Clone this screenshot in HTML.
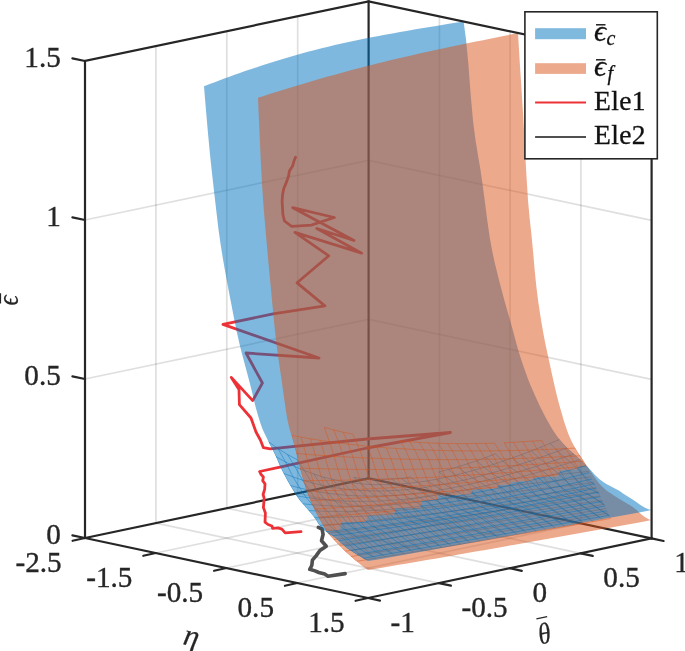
<!DOCTYPE html>
<html><head><meta charset="utf-8"><title>plot</title>
<style>html,body{margin:0;padding:0;background:#fff}svg{display:block}</style></head>
<body>
<svg width="685" height="651" viewBox="0 0 685 651">
<defs>
<clipPath id="cR"><polygon points="300.0,535.5 325.8,531.5 340.0,530.0 341.5,522.0 366.0,521.5 367.5,516.0 394.0,515.0 395.5,508.5 420.0,508.0 421.5,501.0 437.0,499.5 438.5,495.5 471.0,494.5 472.5,489.5 497.0,488.5 498.5,485.0 510.0,484.5 511.5,482.0 532.0,481.0 533.5,477.5 558.0,476.5 559.5,470.5 577.0,469.5 578.5,466.5 590.0,465.5 700.0,465.5 700.0,700.0 300.0,700.0"/></clipPath>
<clipPath id="cN"><path clip-rule="evenodd" d="M-10,-10H700V700H-10Z M300.0,535.5 L325.8,531.5 L340.0,530.0 L341.5,522.0 L366.0,521.5 L367.5,516.0 L394.0,515.0 L395.5,508.5 L420.0,508.0 L421.5,501.0 L437.0,499.5 L438.5,495.5 L471.0,494.5 L472.5,489.5 L497.0,488.5 L498.5,485.0 L510.0,484.5 L511.5,482.0 L532.0,481.0 L533.5,477.5 L558.0,476.5 L559.5,470.5 L577.0,469.5 L578.5,466.5 L590.0,465.5 L700.0,465.5 L700.0,700.0 L300.0,700.0 Z"/></clipPath>
<clipPath id="cB"><polygon points="204.0,86.2 209.1,84.3 214.1,82.4 219.2,80.5 224.3,78.6 229.4,76.7 234.6,74.8 239.8,72.9 245.1,71.0 250.6,69.2 256.2,67.4 261.8,65.6 267.4,63.8 273.0,62.0 278.7,60.2 284.5,58.4 290.4,56.7 296.4,54.9 302.5,53.2 308.8,51.6 315.1,49.9 321.6,48.3 328.2,46.7 334.9,45.1 341.7,43.6 348.6,42.1 355.7,40.6 362.8,39.1 370.1,37.6 377.5,36.2 384.9,34.8 392.5,33.4 400.1,32.0 407.8,30.7 415.6,29.3 423.4,28.0 431.4,26.7 439.3,25.4 447.4,24.1 455.5,22.8 463.6,21.5 466.0,39.3 468.4,64.5 470.7,95.1 473.1,121.6 475.5,139.9 477.9,154.7 480.3,168.7 482.6,184.4 485.0,202.7 487.4,221.2 489.8,237.8 492.2,250.9 494.5,261.8 496.9,271.6 499.3,281.2 501.7,290.3 504.0,299.0 506.4,307.4 508.8,315.8 511.2,324.3 513.6,333.1 515.9,341.8 518.3,350.2 520.7,358.0 523.1,365.2 525.5,372.0 527.8,378.4 530.2,384.4 532.6,390.1 535.0,395.6 537.4,400.8 539.7,405.8 542.1,410.6 544.5,415.3 546.9,419.7 549.3,424.0 551.6,428.0 554.0,431.7 556.4,435.2 558.8,438.5 561.2,441.4 563.5,444.1 565.9,446.6 568.3,448.9 570.7,451.1 573.1,453.2 575.4,455.3 577.8,457.4 580.2,459.5 582.6,461.7 585.0,464.0 587.3,466.4 589.7,469.0 592.1,471.8 594.5,474.5 596.9,476.8 599.2,478.9 601.6,480.8 604.0,482.4 606.4,483.9 608.8,485.2 611.1,486.5 613.5,487.7 615.9,489.0 618.3,490.3 620.7,491.8 623.0,493.4 625.4,495.0 627.8,496.6 630.2,498.1 632.6,499.6 634.9,501.1 637.3,502.8 639.7,504.4 642.1,506.0 644.5,507.4 646.8,508.6 649.2,509.5 651.6,510.1 641.8,511.9 632.0,513.7 622.3,515.5 612.5,517.3 602.7,519.1 592.9,520.9 583.1,522.6 573.4,524.4 563.6,526.2 553.8,528.0 544.0,529.7 534.2,531.5 524.5,533.3 514.7,535.0 504.9,536.8 495.1,538.5 485.4,540.3 475.6,542.0 465.8,543.8 456.0,545.5 446.2,547.3 436.5,549.0 426.7,550.7 416.9,552.5 407.1,554.2 397.3,555.9 387.6,557.7 377.8,559.4 368.0,561.1 365.9,559.9 363.8,558.7 361.8,557.5 359.7,556.2 357.6,555.0 355.5,553.7 353.5,552.4 351.4,551.1 349.3,549.7 347.2,548.2 345.2,546.6 343.1,544.7 341.0,542.9 338.9,540.9 336.9,539.1 334.8,537.4 332.7,536.0 330.6,534.7 328.6,533.5 326.5,532.1 324.4,530.5 322.3,528.6 320.3,526.3 318.2,523.4 316.1,520.1 314.0,517.1 312.0,514.5 309.9,512.0 307.8,509.6 305.7,507.2 303.7,504.8 301.6,502.4 299.5,499.9 297.4,497.0 295.4,493.9 293.3,490.5 291.2,486.9 289.1,483.4 287.0,479.8 285.0,476.1 282.9,472.1 280.8,467.7 278.7,462.9 276.7,458.2 274.6,453.7 272.5,449.6 270.4,445.5 268.4,441.4 266.3,437.0 264.2,432.7 262.1,427.9 260.1,422.3 258.0,415.6 255.9,408.0 253.8,399.7 251.8,391.1 249.7,382.7 247.6,374.7 245.5,367.1 243.5,359.4 241.4,351.5 239.3,343.0 237.2,333.8 235.2,323.9 233.1,313.4 231.0,302.6 228.9,291.8 226.9,280.8 224.8,269.5 222.7,257.4 220.6,244.3 218.5,229.4 216.5,212.6 214.4,194.4 212.3,175.7 210.2,156.4 208.2,135.4 206.1,111.7"/></clipPath>
<clipPath id="cO"><polygon points="258.0,97.7 263.8,95.9 269.5,94.1 275.2,92.3 281.0,90.6 286.7,88.8 292.5,87.0 298.3,85.3 304.2,83.5 310.0,81.8 315.8,80.0 321.8,78.3 327.8,76.6 334.0,74.9 340.2,73.2 346.4,71.5 352.6,69.8 358.9,68.2 365.2,66.5 371.6,64.9 378.1,63.3 384.6,61.7 391.2,60.1 397.9,58.5 404.6,56.9 411.4,55.4 418.3,53.8 425.2,52.3 432.1,50.8 439.1,49.3 446.1,47.8 453.2,46.3 460.3,44.8 467.5,43.3 474.6,41.8 481.8,40.4 489.0,38.9 496.2,37.4 503.5,36.0 510.7,34.5 518.0,33.1 519.7,61.5 521.4,87.7 523.1,114.3 524.7,143.8 526.4,175.1 528.1,201.7 529.8,219.8 531.5,235.2 533.2,252.9 534.9,272.8 536.6,288.7 538.3,301.9 540.0,313.5 541.7,324.0 543.4,333.4 545.0,341.9 546.7,349.9 548.4,357.7 550.1,365.5 551.8,373.4 553.5,381.2 555.2,388.6 556.9,395.7 558.6,402.2 560.3,408.4 562.0,414.3 563.6,420.0 565.3,425.3 567.0,430.2 568.7,434.7 570.4,438.7 572.1,442.3 573.8,445.6 575.5,448.6 577.2,451.4 578.9,454.1 580.6,456.6 582.3,459.1 583.9,461.6 585.6,464.0 587.3,466.5 589.0,469.0 590.7,471.6 592.4,474.1 594.1,476.6 595.8,479.0 597.5,481.3 599.2,483.4 600.9,485.3 602.6,487.0 604.2,488.6 605.9,490.0 607.6,491.3 609.3,492.5 611.0,493.6 612.7,494.8 614.4,495.8 616.1,496.9 617.8,498.0 619.5,499.1 621.2,500.1 622.8,501.1 624.5,502.1 626.2,503.1 627.9,504.1 629.6,505.1 631.3,506.1 633.0,507.2 634.7,508.4 636.4,509.8 638.1,511.4 639.8,512.9 641.5,514.4 643.1,515.8 644.8,517.1 646.5,518.1 648.2,519.0 649.9,519.7 651.6,520.1 641.8,521.9 632.0,523.7 622.3,525.5 612.5,527.2 602.7,529.0 592.9,530.8 583.1,532.5 573.4,534.3 563.6,536.0 553.8,537.8 544.0,539.5 534.2,541.3 524.5,543.0 514.7,544.7 504.9,546.4 495.1,548.2 485.4,549.9 475.6,551.6 465.8,553.3 456.0,555.0 446.2,556.7 436.5,558.4 426.7,560.0 416.9,561.7 407.1,563.4 397.3,565.0 387.6,566.7 377.8,568.4 368.0,570.0 366.6,569.0 365.2,568.0 363.8,567.0 362.4,566.0 361.0,564.9 359.6,563.8 358.3,562.7 356.9,561.6 355.5,560.4 354.1,559.3 352.7,558.0 351.3,556.8 349.9,555.6 348.5,554.3 347.1,553.0 345.7,551.7 344.3,550.4 342.9,549.0 341.6,547.6 340.2,546.2 338.8,544.8 337.4,543.4 336.0,541.9 334.6,540.4 333.2,539.0 331.8,537.6 330.4,536.1 329.0,534.5 327.6,532.6 326.2,530.5 324.8,528.2 323.5,525.9 322.1,523.5 320.7,521.0 319.3,518.4 317.9,515.8 316.5,513.2 315.1,510.5 313.7,507.7 312.3,504.8 310.9,501.6 309.5,498.3 308.1,494.8 306.8,491.1 305.4,487.0 304.0,482.5 302.6,477.6 301.2,472.5 299.8,467.2 298.4,461.5 297.0,455.8 295.6,450.2 294.2,444.6 292.8,439.4 291.4,434.9 290.0,430.6 288.7,425.6 287.3,418.9 285.9,410.5 284.5,400.9 283.1,390.7 281.7,380.6 280.3,371.2 278.9,361.8 277.5,352.0 276.1,341.1 274.7,328.2 273.3,313.7 271.9,299.4 270.6,285.2 269.2,270.7 267.8,255.6 266.4,239.8 265.0,223.8 263.6,206.9 262.2,186.9 260.8,161.0 259.4,130.4"/></clipPath>
<clipPath id="cM"><polygon points="0,0 572,0 572,430 586,466 611,519 622,545 622,700 0,700"/></clipPath>
</defs>
<rect width="685" height="651" fill="#fff"/>
<g stroke="#262626" stroke-opacity="0.15" stroke-width="1.7" fill="none">
<line x1="155.9" y1="523.1" x2="155.9" y2="46.1"/>
<line x1="439.4" y1="493.4" x2="439.4" y2="16.4"/>
<line x1="155.8" y1="553.0" x2="439.4" y2="493.4"/>
<line x1="155.9" y1="523.1" x2="438.9" y2="583.1"/>
<line x1="226.8" y1="508.2" x2="226.8" y2="31.2"/>
<line x1="510.1" y1="508.4" x2="510.1" y2="31.4"/>
<line x1="226.5" y1="568.0" x2="510.1" y2="508.4"/>
<line x1="226.8" y1="508.2" x2="509.8" y2="568.2"/>
<line x1="297.7" y1="493.3" x2="297.7" y2="16.3"/>
<line x1="580.9" y1="523.4" x2="580.9" y2="46.4"/>
<line x1="297.2" y1="583.0" x2="580.9" y2="523.4"/>
<line x1="297.7" y1="493.3" x2="580.7" y2="553.3"/>
<line x1="85.0" y1="379.0" x2="368.6" y2="319.4"/>
<line x1="368.6" y1="319.4" x2="651.6" y2="379.4"/>
<line x1="85.0" y1="220.0" x2="368.6" y2="160.4"/>
<line x1="368.6" y1="160.4" x2="651.6" y2="220.4"/>
</g>
<g stroke="#262626" stroke-width="2.2" fill="none" stroke-linecap="square">
<line x1="85.0" y1="538.0" x2="368.6" y2="478.4"/>
<line x1="368.6" y1="478.4" x2="651.6" y2="538.4"/>
<line x1="368.6" y1="478.4" x2="368.6" y2="1.4"/>
</g>
<polyline points="295.5,157.3 294.0,161.0 292.6,166.1 289.4,171.0 288.6,176.0 287.0,180.6 283.7,188.7 282.5,195.0 282.1,201.6 282.9,214.5 284.5,221.0 291.6,226.3 311.3,225.2 334.3,217.5 292.7,207.7 354.0,240.5 316.8,228.5 361.7,253.2 294.9,232.4 328.8,255.8 297.1,282.8 324.9,305.8 273.0,313.9 223.0,324.4 319.0,358.0 246.0,353.0 262.4,383.0 252.7,400.6 231.3,377.4 239.0,389.5 239.4,404.7 251.0,418.0 256.0,432.0 260.4,440.0 263.4,447.7 270.3,448.9 367.0,439.0 450.5,432.5 367.0,448.0 278.8,467.3 259.6,471.5 261.1,474.6 263.4,476.9 262.7,480.7 265.0,483.8 264.7,489.2 263.1,494.5 264.2,498.4 263.4,507.6 265.4,513.0 265.0,522.2 268.0,524.5 271.9,526.0 272.6,528.3 278.0,527.9 281.9,529.1 285.2,532.9 301.0,531.6" fill="none" stroke="#ed3237" stroke-width="2.8" stroke-linejoin="round" stroke-linecap="round"/>
<polyline points="318.3,527.4 322.0,529.0 323.1,534.4 321.5,540.8 326.3,546.2 319.9,550.5 316.1,555.9 312.4,560.2 311.8,565.5 309.7,569.3 315.0,570.9 318.8,572.5 324.7,574.1 328.0,576.3 345.2,573.6" fill="none" stroke="#505050" stroke-width="3.6" stroke-linejoin="round" stroke-linecap="round"/>
<g clip-path="url(#cR)"><polygon points="258.0,97.7 263.8,95.9 269.5,94.1 275.2,92.3 281.0,90.6 286.7,88.8 292.5,87.0 298.3,85.3 304.2,83.5 310.0,81.8 315.8,80.0 321.8,78.3 327.8,76.6 334.0,74.9 340.2,73.2 346.4,71.5 352.6,69.8 358.9,68.2 365.2,66.5 371.6,64.9 378.1,63.3 384.6,61.7 391.2,60.1 397.9,58.5 404.6,56.9 411.4,55.4 418.3,53.8 425.2,52.3 432.1,50.8 439.1,49.3 446.1,47.8 453.2,46.3 460.3,44.8 467.5,43.3 474.6,41.8 481.8,40.4 489.0,38.9 496.2,37.4 503.5,36.0 510.7,34.5 518.0,33.1 519.7,61.5 521.4,87.7 523.1,114.3 524.7,143.8 526.4,175.1 528.1,201.7 529.8,219.8 531.5,235.2 533.2,252.9 534.9,272.8 536.6,288.7 538.3,301.9 540.0,313.5 541.7,324.0 543.4,333.4 545.0,341.9 546.7,349.9 548.4,357.7 550.1,365.5 551.8,373.4 553.5,381.2 555.2,388.6 556.9,395.7 558.6,402.2 560.3,408.4 562.0,414.3 563.6,420.0 565.3,425.3 567.0,430.2 568.7,434.7 570.4,438.7 572.1,442.3 573.8,445.6 575.5,448.6 577.2,451.4 578.9,454.1 580.6,456.6 582.3,459.1 583.9,461.6 585.6,464.0 587.3,466.5 589.0,469.0 590.7,471.6 592.4,474.1 594.1,476.6 595.8,479.0 597.5,481.3 599.2,483.4 600.9,485.3 602.6,487.0 604.2,488.6 605.9,490.0 607.6,491.3 609.3,492.5 611.0,493.6 612.7,494.8 614.4,495.8 616.1,496.9 617.8,498.0 619.5,499.1 621.2,500.1 622.8,501.1 624.5,502.1 626.2,503.1 627.9,504.1 629.6,505.1 631.3,506.1 633.0,507.2 634.7,508.4 636.4,509.8 638.1,511.4 639.8,512.9 641.5,514.4 643.1,515.8 644.8,517.1 646.5,518.1 648.2,519.0 649.9,519.7 651.6,520.1 641.8,521.9 632.0,523.7 622.3,525.5 612.5,527.2 602.7,529.0 592.9,530.8 583.1,532.5 573.4,534.3 563.6,536.0 553.8,537.8 544.0,539.5 534.2,541.3 524.5,543.0 514.7,544.7 504.9,546.4 495.1,548.2 485.4,549.9 475.6,551.6 465.8,553.3 456.0,555.0 446.2,556.7 436.5,558.4 426.7,560.0 416.9,561.7 407.1,563.4 397.3,565.0 387.6,566.7 377.8,568.4 368.0,570.0 366.6,569.0 365.2,568.0 363.8,567.0 362.4,566.0 361.0,564.9 359.6,563.8 358.3,562.7 356.9,561.6 355.5,560.4 354.1,559.3 352.7,558.0 351.3,556.8 349.9,555.6 348.5,554.3 347.1,553.0 345.7,551.7 344.3,550.4 342.9,549.0 341.6,547.6 340.2,546.2 338.8,544.8 337.4,543.4 336.0,541.9 334.6,540.4 333.2,539.0 331.8,537.6 330.4,536.1 329.0,534.5 327.6,532.6 326.2,530.5 324.8,528.2 323.5,525.9 322.1,523.5 320.7,521.0 319.3,518.4 317.9,515.8 316.5,513.2 315.1,510.5 313.7,507.7 312.3,504.8 310.9,501.6 309.5,498.3 308.1,494.8 306.8,491.1 305.4,487.0 304.0,482.5 302.6,477.6 301.2,472.5 299.8,467.2 298.4,461.5 297.0,455.8 295.6,450.2 294.2,444.6 292.8,439.4 291.4,434.9 290.0,430.6 288.7,425.6 287.3,418.9 285.9,410.5 284.5,400.9 283.1,390.7 281.7,380.6 280.3,371.2 278.9,361.8 277.5,352.0 276.1,341.1 274.7,328.2 273.3,313.7 271.9,299.4 270.6,285.2 269.2,270.7 267.8,255.6 266.4,239.8 265.0,223.8 263.6,206.9 262.2,186.9 260.8,161.0 259.4,130.4" fill="#d95319" fill-opacity="0.5"/><g clip-path="url(#cO)"><path clip-path="url(#cM)" d="M291.6,435.4 L301.0,437.1 L310.5,438.8 L320.0,440.3 L329.4,441.7 L338.9,443.0 L348.3,444.1 L357.8,445.2 L367.2,446.1 L376.7,447.0 L386.1,447.8 L395.6,448.4 L405.0,449.0 L414.5,449.5 L423.9,449.9 L433.4,450.3 L442.8,450.5 L452.3,450.7 L461.8,450.9 L471.2,450.9 L480.7,450.9 L490.1,450.9 L499.6,450.8 L509.0,450.6 L518.5,450.4 L527.9,450.1 L537.4,449.8 L546.8,449.5 L556.3,449.0 L565.7,448.6 L575.2,448.1 M296.4,453.4 L305.9,454.2 L315.3,455.0 L324.8,455.6 L334.2,456.3 L343.7,456.8 L353.1,457.3 L362.6,457.8 L372.0,458.2 L381.5,458.5 L390.9,458.8 L400.4,459.1 L409.8,459.3 L419.3,459.4 L428.8,459.6 L438.2,459.6 L447.7,459.6 L457.1,459.6 L466.6,459.6 L476.0,459.4 L485.5,459.3 L494.9,459.1 L504.4,458.9 L513.8,458.6 L523.3,458.3 L532.7,458.0 L542.2,457.6 L551.6,457.2 L561.1,456.8 L570.6,456.3 L580.0,455.8 M300.0,468.1 L309.5,468.4 L318.9,468.7 L328.4,468.9 L337.8,469.1 L347.3,469.3 L356.7,469.4 L366.2,469.4 L375.6,469.5 L385.1,469.5 L394.6,469.4 L404.0,469.3 L413.5,469.2 L422.9,469.0 L432.4,468.8 L441.8,468.5 L451.3,468.3 L460.7,468.0 L470.2,467.6 L479.6,467.2 L489.1,466.8 L498.5,466.4 L508.0,465.9 L517.4,465.4 L526.9,464.9 L536.4,464.3 L545.8,463.7 L555.3,463.1 L564.7,462.5 L574.2,461.8 L583.6,461.1 M303.4,480.6 L312.9,480.6 L322.3,480.5 L331.8,480.4 L341.2,480.2 L350.7,480.1 L360.1,479.9 L369.6,479.6 L379.1,479.3 L388.5,479.0 L398.0,478.7 L407.4,478.3 L416.9,477.9 L426.3,477.5 L435.8,477.0 L445.2,476.5 L454.7,476.0 L464.1,475.4 L473.6,474.9 L483.0,474.3 L492.5,473.6 L501.9,473.0 L511.4,472.3 L520.9,471.6 L530.3,470.9 L539.8,470.1 L549.2,469.4 L558.7,468.6 L568.1,467.7 L577.6,466.9 L587.0,466.0 M306.9,491.4 L316.3,491.1 L325.8,490.7 L335.2,490.4 L344.7,490.0 L354.1,489.6 L363.6,489.1 L373.0,488.7 L382.5,488.2 L391.9,487.6 L401.4,487.1 L410.8,486.5 L420.3,485.9 L429.7,485.3 L439.2,484.6 L448.7,484.0 L458.1,483.3 L467.6,482.5 L477.0,481.8 L486.5,481.0 L495.9,480.2 L505.4,479.4 L514.8,478.6 L524.3,477.7 L533.7,476.9 L543.2,476.0 L552.6,475.0 L562.1,474.1 L571.5,473.2 L581.0,472.2 L590.5,471.2 M310.5,500.6 L320.0,500.2 L329.4,499.7 L338.9,499.2 L348.3,498.6 L357.8,498.0 L367.2,497.5 L376.7,496.8 L386.1,496.2 L395.6,495.5 L405.0,494.8 L414.5,494.1 L423.9,493.4 L433.4,492.6 L442.8,491.8 L452.3,491.0 L461.8,490.2 L471.2,489.4 L480.7,488.5 L490.1,487.6 L499.6,486.7 L509.0,485.8 L518.5,484.8 L527.9,483.9 L537.4,482.9 L546.8,481.9 L556.3,480.9 L565.7,479.8 L575.2,478.8 L584.6,477.7 L594.1,476.6 M314.4,509.1 L323.9,508.5 L333.3,507.9 L342.8,507.3 L352.2,506.6 L361.7,505.9 L371.1,505.2 L380.6,504.4 L390.0,503.7 L399.5,502.9 L408.9,502.1 L418.4,501.2 L427.8,500.4 L437.3,499.5 L446.7,498.6 L456.2,497.7 L465.7,496.8 L475.1,495.8 L484.6,494.9 L494.0,493.9 L503.5,492.9 L512.9,491.9 L522.4,490.8 L531.8,489.8 L541.3,488.7 L550.7,487.6 L560.2,486.5 L569.6,485.4 L579.1,484.2 L588.5,483.1 L598.0,481.9 M318.6,517.3 L328.1,516.5 L337.6,515.8 L347.0,515.0 L356.5,514.1 L365.9,513.3 L375.4,512.5 L384.8,511.6 L394.3,510.7 L403.7,509.8 L413.2,508.9 L422.6,507.9 L432.1,506.9 L441.5,506.0 L451.0,505.0 L460.4,503.9 L469.9,502.9 L479.4,501.8 L488.8,500.8 L498.3,499.7 L507.7,498.6 L517.2,497.5 L526.6,496.3 L536.1,495.2 L545.5,494.0 L555.0,492.8 L564.4,491.6 L573.9,490.4 L583.3,489.2 L592.8,488.0 L602.2,486.7 M323.2,525.5 L332.7,524.5 L342.1,523.6 L351.6,522.6 L361.0,521.6 L370.5,520.6 L380.0,519.6 L389.4,518.5 L398.9,517.5 L408.3,516.4 L417.8,515.3 L427.2,514.2 L436.7,513.1 L446.1,511.9 L455.6,510.8 L465.0,509.6 L474.5,508.5 L483.9,507.3 L493.4,506.1 L502.8,504.8 L512.3,503.6 L521.8,502.4 L531.2,501.1 L540.7,499.9 L550.1,498.6 L559.6,497.3 L569.0,496.0 L578.5,494.7 L587.9,493.4 L597.4,492.0 L606.8,490.7 M328.2,533.4 L337.6,532.2 L347.1,531.1 L356.5,529.9 L366.0,528.7 L375.4,527.5 L384.9,526.3 L394.3,525.1 L403.8,523.8 L413.2,522.6 L422.7,521.3 L432.1,520.1 L441.6,518.8 L451.0,517.5 L460.5,516.2 L470.0,514.9 L479.4,513.6 L488.9,512.2 L498.3,510.9 L507.8,509.6 L517.2,508.2 L526.7,506.8 L536.1,505.5 L545.6,504.1 L555.0,502.7 L564.5,501.3 L573.9,499.9 L583.4,498.4 L592.8,497.0 L602.3,495.6 L611.8,494.1 M333.8,539.6 L343.2,538.3 L352.7,537.0 L362.1,535.7 L371.6,534.4 L381.0,533.1 L390.5,531.8 L399.9,530.5 L409.4,529.2 L418.8,527.8 L428.3,526.5 L437.7,525.1 L447.2,523.7 L456.7,522.4 L466.1,521.0 L475.6,519.6 L485.0,518.2 L494.5,516.8 L503.9,515.4 L513.4,513.9 L522.8,512.5 L532.3,511.0 L541.7,509.6 L551.2,508.1 L560.6,506.7 L570.1,505.2 L579.5,503.7 L589.0,502.2 L598.5,500.7 L607.9,499.2 L617.4,497.7 M339.5,545.5 L348.9,544.1 L358.4,542.8 L367.8,541.4 L377.3,540.0 L386.7,538.6 L396.2,537.2 L405.6,535.7 L415.1,534.3 L424.5,532.9 L434.0,531.4 L443.4,530.0 L452.9,528.5 L462.3,527.1 L471.8,525.6 L481.3,524.1 L490.7,522.7 L500.2,521.2 L509.6,519.7 L519.1,518.2 L528.5,516.7 L538.0,515.1 L547.4,513.6 L556.9,512.1 L566.3,510.6 L575.8,509.0 L585.2,507.5 L594.7,505.9 L604.1,504.4 L613.6,502.8 L623.1,501.2 M345.2,551.2 L354.7,549.8 L364.2,548.3 L373.6,546.8 L383.1,545.3 L392.5,543.8 L402.0,542.3 L411.4,540.8 L420.9,539.3 L430.3,537.8 L439.8,536.2 L449.2,534.7 L458.7,533.2 L468.1,531.6 L477.6,530.1 L487.0,528.5 L496.5,527.0 L506.0,525.4 L515.4,523.8 L524.9,522.3 L534.3,520.7 L543.8,519.1 L553.2,517.5 L562.7,515.9 L572.1,514.3 L581.6,512.7 L591.0,511.1 L600.5,509.5 L609.9,507.9 L619.4,506.2 L628.8,504.6 M351.0,556.6 L360.5,555.0 L369.9,553.5 L379.4,551.9 L388.8,550.4 L398.3,548.8 L407.7,547.3 L417.2,545.7 L426.7,544.1 L436.1,542.6 L445.6,541.0 L455.0,539.4 L464.5,537.8 L473.9,536.2 L483.4,534.6 L492.8,533.0 L502.3,531.4 L511.7,529.8 L521.2,528.1 L530.6,526.5 L540.1,524.9 L549.5,523.3 L559.0,521.6 L568.5,520.0 L577.9,518.3 L587.4,516.7 L596.8,515.0 L606.3,513.4 L615.7,511.7 L625.2,510.0 L634.6,508.4 M356.5,561.3 L366.0,559.8 L375.5,558.3 L384.9,556.7 L394.4,555.2 L403.8,553.7 L413.3,552.1 L422.7,550.5 L432.2,549.0 L441.6,547.4 L451.1,545.8 L460.5,544.2 L470.0,542.7 L479.4,541.1 L488.9,539.5 L498.3,537.9 L507.8,536.3 L517.3,534.6 L526.7,533.0 L536.2,531.4 L545.6,529.8 L555.1,528.1 L564.5,526.5 L574.0,524.9 L583.4,523.2 L592.9,521.6 L602.3,519.9 L611.8,518.2 L621.2,516.6 L630.7,514.9 L640.1,513.2 M291.6,435.4 L296.4,453.4 L300.0,468.1 L303.4,480.6 L306.9,491.4 L310.5,500.6 L314.4,509.1 L318.6,517.3 L323.2,525.5 L328.2,533.4 L333.8,539.6 L339.5,545.5 L345.2,551.2 L351.0,556.6 L356.5,561.3 M301.0,437.1 L305.9,454.2 L309.5,468.4 L312.9,480.6 L316.3,491.1 L320.0,500.2 L323.9,508.5 L328.1,516.5 L332.7,524.5 L337.6,532.2 L343.2,538.3 L348.9,544.1 L354.7,549.8 L360.5,555.0 L366.0,559.8 M310.5,438.8 L315.3,455.0 L318.9,468.7 L322.3,480.5 L325.8,490.7 L329.4,499.7 L333.3,507.9 L337.6,515.8 L342.1,523.6 L347.1,531.1 L352.7,537.0 L358.4,542.8 L364.2,548.3 L369.9,553.5 L375.5,558.3 M320.0,440.3 L324.8,455.6 L328.4,468.9 L331.8,480.4 L335.2,490.4 L338.9,499.2 L342.8,507.3 L347.0,515.0 L351.6,522.6 L356.5,529.9 L362.1,535.7 L367.8,541.4 L373.6,546.8 L379.4,551.9 L384.9,556.7 M329.4,441.7 L334.2,456.3 L337.8,469.1 L341.2,480.2 L344.7,490.0 L348.3,498.6 L352.2,506.6 L356.5,514.1 L361.0,521.6 L366.0,528.7 L371.6,534.4 L377.3,540.0 L383.1,545.3 L388.8,550.4 L394.4,555.2 M338.9,443.0 L343.7,456.8 L347.3,469.3 L350.7,480.1 L354.1,489.6 L357.8,498.0 L361.7,505.9 L365.9,513.3 L370.5,520.6 L375.4,527.5 L381.0,533.1 L386.7,538.6 L392.5,543.8 L398.3,548.8 L403.8,553.7 M348.3,444.1 L353.1,457.3 L356.7,469.4 L360.1,479.9 L363.6,489.1 L367.2,497.5 L371.1,505.2 L375.4,512.5 L380.0,519.6 L384.9,526.3 L390.5,531.8 L396.2,537.2 L402.0,542.3 L407.7,547.3 L413.3,552.1 M357.8,445.2 L362.6,457.8 L366.2,469.4 L369.6,479.6 L373.0,488.7 L376.7,496.8 L380.6,504.4 L384.8,511.6 L389.4,518.5 L394.3,525.1 L399.9,530.5 L405.6,535.7 L411.4,540.8 L417.2,545.7 L422.7,550.5 M367.2,446.1 L372.0,458.2 L375.6,469.5 L379.1,479.3 L382.5,488.2 L386.1,496.2 L390.0,503.7 L394.3,510.7 L398.9,517.5 L403.8,523.8 L409.4,529.2 L415.1,534.3 L420.9,539.3 L426.7,544.1 L432.2,549.0 M376.7,447.0 L381.5,458.5 L385.1,469.5 L388.5,479.0 L391.9,487.6 L395.6,495.5 L399.5,502.9 L403.7,509.8 L408.3,516.4 L413.2,522.6 L418.8,527.8 L424.5,532.9 L430.3,537.8 L436.1,542.6 L441.6,547.4 M386.1,447.8 L390.9,458.8 L394.6,469.4 L398.0,478.7 L401.4,487.1 L405.0,494.8 L408.9,502.1 L413.2,508.9 L417.8,515.3 L422.7,521.3 L428.3,526.5 L434.0,531.4 L439.8,536.2 L445.6,541.0 L451.1,545.8 M395.6,448.4 L400.4,459.1 L404.0,469.3 L407.4,478.3 L410.8,486.5 L414.5,494.1 L418.4,501.2 L422.6,507.9 L427.2,514.2 L432.1,520.1 L437.7,525.1 L443.4,530.0 L449.2,534.7 L455.0,539.4 L460.5,544.2 M405.0,449.0 L409.8,459.3 L413.5,469.2 L416.9,477.9 L420.3,485.9 L423.9,493.4 L427.8,500.4 L432.1,506.9 L436.7,513.1 L441.6,518.8 L447.2,523.7 L452.9,528.5 L458.7,533.2 L464.5,537.8 L470.0,542.7 M414.5,449.5 L419.3,459.4 L422.9,469.0 L426.3,477.5 L429.7,485.3 L433.4,492.6 L437.3,499.5 L441.5,506.0 L446.1,511.9 L451.0,517.5 L456.7,522.4 L462.3,527.1 L468.1,531.6 L473.9,536.2 L479.4,541.1 M423.9,449.9 L428.8,459.6 L432.4,468.8 L435.8,477.0 L439.2,484.6 L442.8,491.8 L446.7,498.6 L451.0,505.0 L455.6,510.8 L460.5,516.2 L466.1,521.0 L471.8,525.6 L477.6,530.1 L483.4,534.6 L488.9,539.5 M433.4,450.3 L438.2,459.6 L441.8,468.5 L445.2,476.5 L448.7,484.0 L452.3,491.0 L456.2,497.7 L460.4,503.9 L465.0,509.6 L470.0,514.9 L475.6,519.6 L481.3,524.1 L487.0,528.5 L492.8,533.0 L498.3,537.9 M442.8,450.5 L447.7,459.6 L451.3,468.3 L454.7,476.0 L458.1,483.3 L461.8,490.2 L465.7,496.8 L469.9,502.9 L474.5,508.5 L479.4,513.6 L485.0,518.2 L490.7,522.7 L496.5,527.0 L502.3,531.4 L507.8,536.3 M452.3,450.7 L457.1,459.6 L460.7,468.0 L464.1,475.4 L467.6,482.5 L471.2,489.4 L475.1,495.8 L479.4,501.8 L483.9,507.3 L488.9,512.2 L494.5,516.8 L500.2,521.2 L506.0,525.4 L511.7,529.8 L517.3,534.6 M461.8,450.9 L466.6,459.6 L470.2,467.6 L473.6,474.9 L477.0,481.8 L480.7,488.5 L484.6,494.9 L488.8,500.8 L493.4,506.1 L498.3,510.9 L503.9,515.4 L509.6,519.7 L515.4,523.8 L521.2,528.1 L526.7,533.0 M471.2,450.9 L476.0,459.4 L479.6,467.2 L483.0,474.3 L486.5,481.0 L490.1,487.6 L494.0,493.9 L498.3,499.7 L502.8,504.8 L507.8,509.6 L513.4,513.9 L519.1,518.2 L524.9,522.3 L530.6,526.5 L536.2,531.4 M480.7,450.9 L485.5,459.3 L489.1,466.8 L492.5,473.6 L495.9,480.2 L499.6,486.7 L503.5,492.9 L507.7,498.6 L512.3,503.6 L517.2,508.2 L522.8,512.5 L528.5,516.7 L534.3,520.7 L540.1,524.9 L545.6,529.8 M490.1,450.9 L494.9,459.1 L498.5,466.4 L501.9,473.0 L505.4,479.4 L509.0,485.8 L512.9,491.9 L517.2,497.5 L521.8,502.4 L526.7,506.8 L532.3,511.0 L538.0,515.1 L543.8,519.1 L549.5,523.3 L555.1,528.1 M499.6,450.8 L504.4,458.9 L508.0,465.9 L511.4,472.3 L514.8,478.6 L518.5,484.8 L522.4,490.8 L526.6,496.3 L531.2,501.1 L536.1,505.5 L541.7,509.6 L547.4,513.6 L553.2,517.5 L559.0,521.6 L564.5,526.5 M509.0,450.6 L513.8,458.6 L517.4,465.4 L520.9,471.6 L524.3,477.7 L527.9,483.9 L531.8,489.8 L536.1,495.2 L540.7,499.9 L545.6,504.1 L551.2,508.1 L556.9,512.1 L562.7,515.9 L568.5,520.0 L574.0,524.9 M518.5,450.4 L523.3,458.3 L526.9,464.9 L530.3,470.9 L533.7,476.9 L537.4,482.9 L541.3,488.7 L545.5,494.0 L550.1,498.6 L555.0,502.7 L560.6,506.7 L566.3,510.6 L572.1,514.3 L577.9,518.3 L583.4,523.2 M527.9,450.1 L532.7,458.0 L536.4,464.3 L539.8,470.1 L543.2,476.0 L546.8,481.9 L550.7,487.6 L555.0,492.8 L559.6,497.3 L564.5,501.3 L570.1,505.2 L575.8,509.0 L581.6,512.7 L587.4,516.7 L592.9,521.6 M537.4,449.8 L542.2,457.6 L545.8,463.7 L549.2,469.4 L552.6,475.0 L556.3,480.9 L560.2,486.5 L564.4,491.6 L569.0,496.0 L573.9,499.9 L579.5,503.7 L585.2,507.5 L591.0,511.1 L596.8,515.0 L602.3,519.9 M546.8,449.5 L551.6,457.2 L555.3,463.1 L558.7,468.6 L562.1,474.1 L565.7,479.8 L569.6,485.4 L573.9,490.4 L578.5,494.7 L583.4,498.4 L589.0,502.2 L594.7,505.9 L600.5,509.5 L606.3,513.4 L611.8,518.2 M556.3,449.0 L561.1,456.8 L564.7,462.5 L568.1,467.7 L571.5,473.2 L575.2,478.8 L579.1,484.2 L583.3,489.2 L587.9,493.4 L592.8,497.0 L598.5,500.7 L604.1,504.4 L609.9,507.9 L615.7,511.7 L621.2,516.6 M565.7,448.6 L570.6,456.3 L574.2,461.8 L577.6,466.9 L581.0,472.2 L584.6,477.7 L588.5,483.1 L592.8,488.0 L597.4,492.0 L602.3,495.6 L607.9,499.2 L613.6,502.8 L619.4,506.2 L625.2,510.0 L630.7,514.9 M575.2,448.1 L580.0,455.8 L583.6,461.1 L587.0,466.0 L590.5,471.2 L594.1,476.6 L598.0,481.9 L602.2,486.7 L606.8,490.7 L611.8,494.1 L617.4,497.7 L623.1,501.2 L628.8,504.6 L634.6,508.4 L640.1,513.2 M324.4,427.5 L333.8,430.0 L343.3,432.2 L352.7,434.1 M324.4,427.5 L329.4,441.7 M333.8,430.0 L338.9,443.0 M343.3,432.2 L348.3,444.1 M352.7,434.1 L357.8,445.2 M400.0,440.9 L409.5,441.7 L418.9,442.4 L428.4,442.9 L437.8,443.2 L447.3,443.5 L456.7,443.6 L466.2,443.6 L475.6,443.5 L485.1,443.4 L494.5,443.1 M400.0,440.9 L405.0,449.0 M409.5,441.7 L414.5,449.5 M418.9,442.4 L423.9,449.9 M428.4,442.9 L433.4,450.3 M437.8,443.2 L442.8,450.5 M447.3,443.5 L452.3,450.7 M456.7,443.6 L461.8,450.9 M466.2,443.6 L471.2,450.9 M475.6,443.5 L480.7,450.9 M485.1,443.4 L490.1,450.9 M494.5,443.1 L499.6,450.8 M504.0,442.7 L513.4,442.3 L522.9,441.7 L532.4,441.1 L541.8,440.5 M504.0,442.7 L509.0,450.6 M513.4,442.3 L518.5,450.4 M522.9,441.7 L527.9,450.1 M532.4,441.1 L537.4,449.8 M541.8,440.5 L546.8,449.5" fill="none" stroke="#d95319" stroke-width="0.6" stroke-opacity="0.75"/></g></g>
<polygon points="204.0,86.2 209.1,84.3 214.1,82.4 219.2,80.5 224.3,78.6 229.4,76.7 234.6,74.8 239.8,72.9 245.1,71.0 250.6,69.2 256.2,67.4 261.8,65.6 267.4,63.8 273.0,62.0 278.7,60.2 284.5,58.4 290.4,56.7 296.4,54.9 302.5,53.2 308.8,51.6 315.1,49.9 321.6,48.3 328.2,46.7 334.9,45.1 341.7,43.6 348.6,42.1 355.7,40.6 362.8,39.1 370.1,37.6 377.5,36.2 384.9,34.8 392.5,33.4 400.1,32.0 407.8,30.7 415.6,29.3 423.4,28.0 431.4,26.7 439.3,25.4 447.4,24.1 455.5,22.8 463.6,21.5 466.0,39.3 468.4,64.5 470.7,95.1 473.1,121.6 475.5,139.9 477.9,154.7 480.3,168.7 482.6,184.4 485.0,202.7 487.4,221.2 489.8,237.8 492.2,250.9 494.5,261.8 496.9,271.6 499.3,281.2 501.7,290.3 504.0,299.0 506.4,307.4 508.8,315.8 511.2,324.3 513.6,333.1 515.9,341.8 518.3,350.2 520.7,358.0 523.1,365.2 525.5,372.0 527.8,378.4 530.2,384.4 532.6,390.1 535.0,395.6 537.4,400.8 539.7,405.8 542.1,410.6 544.5,415.3 546.9,419.7 549.3,424.0 551.6,428.0 554.0,431.7 556.4,435.2 558.8,438.5 561.2,441.4 563.5,444.1 565.9,446.6 568.3,448.9 570.7,451.1 573.1,453.2 575.4,455.3 577.8,457.4 580.2,459.5 582.6,461.7 585.0,464.0 587.3,466.4 589.7,469.0 592.1,471.8 594.5,474.5 596.9,476.8 599.2,478.9 601.6,480.8 604.0,482.4 606.4,483.9 608.8,485.2 611.1,486.5 613.5,487.7 615.9,489.0 618.3,490.3 620.7,491.8 623.0,493.4 625.4,495.0 627.8,496.6 630.2,498.1 632.6,499.6 634.9,501.1 637.3,502.8 639.7,504.4 642.1,506.0 644.5,507.4 646.8,508.6 649.2,509.5 651.6,510.1 641.8,511.9 632.0,513.7 622.3,515.5 612.5,517.3 602.7,519.1 592.9,520.9 583.1,522.6 573.4,524.4 563.6,526.2 553.8,528.0 544.0,529.7 534.2,531.5 524.5,533.3 514.7,535.0 504.9,536.8 495.1,538.5 485.4,540.3 475.6,542.0 465.8,543.8 456.0,545.5 446.2,547.3 436.5,549.0 426.7,550.7 416.9,552.5 407.1,554.2 397.3,555.9 387.6,557.7 377.8,559.4 368.0,561.1 365.9,559.9 363.8,558.7 361.8,557.5 359.7,556.2 357.6,555.0 355.5,553.7 353.5,552.4 351.4,551.1 349.3,549.7 347.2,548.2 345.2,546.6 343.1,544.7 341.0,542.9 338.9,540.9 336.9,539.1 334.8,537.4 332.7,536.0 330.6,534.7 328.6,533.5 326.5,532.1 324.4,530.5 322.3,528.6 320.3,526.3 318.2,523.4 316.1,520.1 314.0,517.1 312.0,514.5 309.9,512.0 307.8,509.6 305.7,507.2 303.7,504.8 301.6,502.4 299.5,499.9 297.4,497.0 295.4,493.9 293.3,490.5 291.2,486.9 289.1,483.4 287.0,479.8 285.0,476.1 282.9,472.1 280.8,467.7 278.7,462.9 276.7,458.2 274.6,453.7 272.5,449.6 270.4,445.5 268.4,441.4 266.3,437.0 264.2,432.7 262.1,427.9 260.1,422.3 258.0,415.6 255.9,408.0 253.8,399.7 251.8,391.1 249.7,382.7 247.6,374.7 245.5,367.1 243.5,359.4 241.4,351.5 239.3,343.0 237.2,333.8 235.2,323.9 233.1,313.4 231.0,302.6 228.9,291.8 226.9,280.8 224.8,269.5 222.7,257.4 220.6,244.3 218.5,229.4 216.5,212.6 214.4,194.4 212.3,175.7 210.2,156.4 208.2,135.4 206.1,111.7" fill="#0072bd" fill-opacity="0.5"/><g clip-path="url(#cB)"><path clip-path="url(#cM)" d="M276.0,456.7 L285.5,462.0 L294.9,466.6 L304.4,470.6 L313.8,474.0 L323.3,477.0 L332.7,479.4 L342.2,481.3 L351.7,482.8 L361.1,483.8 L370.6,484.5 L380.0,484.7 L389.5,484.6 L398.9,484.1 L408.4,483.3 L417.8,482.2 L427.3,480.9 L436.7,479.2 L446.2,477.3 L455.6,475.1 L465.1,472.7 L474.5,470.1 L484.0,467.3 L493.5,464.4 L502.9,461.2 L512.4,457.9 L521.8,454.5 L531.3,450.9 L540.7,447.2 L550.2,443.4 L559.6,439.5 M283.5,473.3 L293.0,476.9 L302.4,480.1 L311.9,482.8 L321.3,485.1 L330.8,487.0 L340.2,488.5 L349.7,489.6 L359.1,490.4 L368.6,490.8 L378.0,490.9 L387.5,490.8 L397.0,490.3 L406.4,489.6 L415.9,488.6 L425.3,487.4 L434.8,485.9 L444.2,484.2 L453.7,482.3 L463.1,480.3 L472.6,478.0 L482.0,475.6 L491.5,473.0 L500.9,470.3 L510.4,467.4 L519.8,464.4 L529.3,461.3 L538.8,458.0 L548.2,454.7 L557.7,451.3 L567.1,447.8 M290.3,485.5 L299.8,488.0 L309.3,490.1 L318.7,491.9 L328.2,493.3 L337.6,494.4 L347.1,495.3 L356.5,495.8 L366.0,496.1 L375.4,496.1 L384.9,495.8 L394.3,495.4 L403.8,494.7 L413.2,493.7 L422.7,492.6 L432.1,491.3 L441.6,489.7 L451.1,488.1 L460.5,486.2 L470.0,484.2 L479.4,482.0 L488.9,479.7 L498.3,477.3 L507.8,474.7 L517.2,472.1 L526.7,469.3 L536.1,466.4 L545.6,463.4 L555.0,460.4 L564.5,457.2 L573.9,454.0 M296.6,495.8 L306.1,497.4 L315.5,498.7 L325.0,499.7 L334.4,500.5 L343.9,501.0 L353.3,501.3 L362.8,501.4 L372.2,501.3 L381.7,500.9 L391.1,500.3 L400.6,499.6 L410.0,498.7 L419.5,497.6 L429.0,496.3 L438.4,494.9 L447.9,493.4 L457.3,491.7 L466.8,489.8 L476.2,487.8 L485.7,485.8 L495.1,483.5 L504.6,481.2 L514.0,478.8 L523.5,476.3 L532.9,473.7 L542.4,471.0 L551.8,468.3 L561.3,465.4 L570.8,462.5 L580.2,459.5 M302.8,503.8 L312.2,504.7 L321.7,505.4 L331.2,505.9 L340.6,506.2 L350.1,506.3 L359.5,506.3 L369.0,506.0 L378.4,505.6 L387.9,505.0 L397.3,504.2 L406.8,503.3 L416.2,502.3 L425.7,501.1 L435.1,499.8 L444.6,498.3 L454.0,496.8 L463.5,495.1 L473.0,493.3 L482.4,491.5 L491.9,489.5 L501.3,487.4 L510.8,485.2 L520.2,483.0 L529.7,480.7 L539.1,478.3 L548.6,475.8 L558.0,473.3 L567.5,470.7 L576.9,468.1 L586.4,465.4 M308.6,510.5 L318.0,511.0 L327.5,511.3 L336.9,511.4 L346.4,511.4 L355.8,511.2 L365.3,510.9 L374.7,510.4 L384.2,509.8 L393.7,509.0 L403.1,508.2 L412.6,507.2 L422.0,506.1 L431.5,504.9 L440.9,503.5 L450.4,502.1 L459.8,500.6 L469.3,499.0 L478.7,497.3 L488.2,495.5 L497.6,493.7 L507.1,491.8 L516.5,489.8 L526.0,487.7 L535.5,485.6 L544.9,483.5 L554.4,481.2 L563.8,479.0 L573.3,476.7 L582.7,474.3 L592.2,471.9 M314.2,517.3 L323.6,517.4 L333.1,517.3 L342.5,517.0 L352.0,516.7 L361.5,516.2 L370.9,515.6 L380.4,514.9 L389.8,514.1 L399.3,513.2 L408.7,512.2 L418.2,511.1 L427.6,510.0 L437.1,508.7 L446.5,507.3 L456.0,505.9 L465.4,504.4 L474.9,502.9 L484.3,501.2 L493.8,499.5 L503.3,497.8 L512.7,496.0 L522.2,494.1 L531.6,492.2 L541.1,490.2 L550.5,488.2 L560.0,486.2 L569.4,484.1 L578.9,482.0 L588.3,479.8 L597.8,477.6 M319.6,525.4 L329.0,524.9 L338.5,524.3 L347.9,523.7 L357.4,522.9 L366.8,522.1 L376.3,521.1 L385.7,520.2 L395.2,519.1 L404.7,517.9 L414.1,516.7 L423.6,515.4 L433.0,514.1 L442.5,512.7 L451.9,511.2 L461.4,509.7 L470.8,508.2 L480.3,506.5 L489.7,504.9 L499.2,503.2 L508.6,501.4 L518.1,499.6 L527.5,497.8 L537.0,495.9 L546.5,494.0 L555.9,492.0 L565.4,490.1 L574.8,488.1 L584.3,486.0 L593.7,484.0 L603.2,481.9 M325.8,531.6 L335.2,530.7 L344.7,529.7 L354.1,528.7 L363.6,527.6 L373.0,526.5 L382.5,525.3 L391.9,524.0 L401.4,522.8 L410.8,521.4 L420.3,520.1 L429.7,518.6 L439.2,517.2 L448.6,515.7 L458.1,514.1 L467.6,512.6 L477.0,511.0 L486.5,509.3 L495.9,507.6 L505.4,505.9 L514.8,504.2 L524.3,502.4 L533.7,500.7 L543.2,498.8 L552.6,497.0 L562.1,495.1 L571.5,493.3 L581.0,491.4 L590.4,489.4 L599.9,487.5 L609.4,485.5 M332.4,535.8 L341.9,534.6 L351.4,533.3 L360.8,532.1 L370.3,530.7 L379.7,529.4 L389.2,528.0 L398.6,526.6 L408.1,525.2 L417.5,523.8 L427.0,522.3 L436.4,520.8 L445.9,519.3 L455.3,517.8 L464.8,516.2 L474.2,514.6 L483.7,513.0 L493.2,511.4 L502.6,509.8 L512.1,508.1 L521.5,506.5 L531.0,504.8 L540.4,503.1 L549.9,501.4 L559.3,499.7 L568.8,497.9 L578.2,496.2 L587.7,494.4 L597.1,492.6 L606.6,490.8 L616.0,489.1 M338.8,540.8 L348.2,539.3 L357.7,537.8 L367.1,536.2 L376.6,534.7 L386.0,533.2 L395.5,531.6 L404.9,530.1 L414.4,528.5 L423.8,526.9 L433.3,525.4 L442.7,523.8 L452.2,522.2 L461.6,520.6 L471.1,519.0 L480.6,517.4 L490.0,515.8 L499.5,514.2 L508.9,512.6 L518.4,511.0 L527.8,509.4 L537.3,507.7 L546.7,506.1 L556.2,504.5 L565.6,502.8 L575.1,501.2 L584.5,499.5 L594.0,497.9 L603.4,496.2 L612.9,494.6 L622.4,492.9 M344.6,546.1 L354.1,544.5 L363.5,542.9 L373.0,541.3 L382.4,539.7 L391.9,538.1 L401.3,536.4 L410.8,534.8 L420.2,533.2 L429.7,531.6 L439.1,530.0 L448.6,528.3 L458.0,526.7 L467.5,525.1 L476.9,523.4 L486.4,521.8 L495.9,520.1 L505.3,518.5 L514.8,516.8 L524.2,515.2 L533.7,513.5 L543.1,511.9 L552.6,510.2 L562.0,508.5 L571.5,506.9 L580.9,505.2 L590.4,503.5 L599.8,501.9 L609.3,500.2 L618.7,498.5 L628.2,496.8 M350.6,550.6 L360.1,549.0 L369.6,547.4 L379.0,545.8 L388.5,544.1 L397.9,542.5 L407.4,540.8 L416.8,539.2 L426.3,537.6 L435.7,535.9 L445.2,534.3 L454.6,532.6 L464.1,530.9 L473.5,529.3 L483.0,527.6 L492.4,526.0 L501.9,524.3 L511.4,522.6 L520.8,521.0 L530.3,519.3 L539.7,517.6 L549.2,515.9 L558.6,514.2 L568.1,512.5 L577.5,510.9 L587.0,509.2 L596.4,507.5 L605.9,505.8 L615.3,504.1 L624.8,502.4 L634.2,500.7 M356.8,554.5 L366.3,552.9 L375.7,551.3 L385.2,549.6 L394.6,548.0 L404.1,546.4 L413.5,544.8 L423.0,543.2 L432.4,541.5 L441.9,539.9 L451.3,538.3 L460.8,536.6 L470.2,535.0 L479.7,533.3 L489.1,531.7 L498.6,530.0 L508.1,528.4 L517.5,526.7 L527.0,525.0 L536.4,523.4 L545.9,521.7 L555.3,520.0 L564.8,518.4 L574.2,516.7 L583.7,515.0 L593.1,513.3 L602.6,511.6 L612.0,509.9 L621.5,508.2 L630.9,506.6 L640.4,504.9 M363.1,558.3 L372.6,556.7 L382.0,555.0 L391.5,553.4 L400.9,551.8 L410.4,550.2 L419.8,548.6 L429.3,546.9 L438.7,545.3 L448.2,543.7 L457.7,542.0 L467.1,540.4 L476.6,538.7 L486.0,537.1 L495.5,535.4 L504.9,533.8 L514.4,532.1 L523.8,530.4 L533.3,528.8 L542.7,527.1 L552.2,525.4 L561.6,523.7 L571.1,522.1 L580.5,520.4 L590.0,518.7 L599.5,517.0 L608.9,515.3 L618.4,513.6 L627.8,511.9 L637.3,510.2 L646.7,508.5 M276.0,456.7 L283.5,473.3 L290.3,485.5 L296.6,495.8 L302.8,503.8 L308.6,510.5 L314.2,517.3 L319.6,525.4 L325.8,531.6 L332.4,535.8 L338.8,540.8 L344.6,546.1 L350.6,550.6 L356.8,554.5 L363.1,558.3 M285.5,462.0 L293.0,476.9 L299.8,488.0 L306.1,497.4 L312.2,504.7 L318.0,511.0 L323.6,517.4 L329.0,524.9 L335.2,530.7 L341.9,534.6 L348.2,539.3 L354.1,544.5 L360.1,549.0 L366.3,552.9 L372.6,556.7 M294.9,466.6 L302.4,480.1 L309.3,490.1 L315.5,498.7 L321.7,505.4 L327.5,511.3 L333.1,517.3 L338.5,524.3 L344.7,529.7 L351.4,533.3 L357.7,537.8 L363.5,542.9 L369.6,547.4 L375.7,551.3 L382.0,555.0 M304.4,470.6 L311.9,482.8 L318.7,491.9 L325.0,499.7 L331.2,505.9 L336.9,511.4 L342.5,517.0 L347.9,523.7 L354.1,528.7 L360.8,532.1 L367.1,536.2 L373.0,541.3 L379.0,545.8 L385.2,549.6 L391.5,553.4 M313.8,474.0 L321.3,485.1 L328.2,493.3 L334.4,500.5 L340.6,506.2 L346.4,511.4 L352.0,516.7 L357.4,522.9 L363.6,527.6 L370.3,530.7 L376.6,534.7 L382.4,539.7 L388.5,544.1 L394.6,548.0 L400.9,551.8 M323.3,477.0 L330.8,487.0 L337.6,494.4 L343.9,501.0 L350.1,506.3 L355.8,511.2 L361.5,516.2 L366.8,522.1 L373.0,526.5 L379.7,529.4 L386.0,533.2 L391.9,538.1 L397.9,542.5 L404.1,546.4 L410.4,550.2 M332.7,479.4 L340.2,488.5 L347.1,495.3 L353.3,501.3 L359.5,506.3 L365.3,510.9 L370.9,515.6 L376.3,521.1 L382.5,525.3 L389.2,528.0 L395.5,531.6 L401.3,536.4 L407.4,540.8 L413.5,544.8 L419.8,548.6 M342.2,481.3 L349.7,489.6 L356.5,495.8 L362.8,501.4 L369.0,506.0 L374.7,510.4 L380.4,514.9 L385.7,520.2 L391.9,524.0 L398.6,526.6 L404.9,530.1 L410.8,534.8 L416.8,539.2 L423.0,543.2 L429.3,546.9 M351.7,482.8 L359.1,490.4 L366.0,496.1 L372.2,501.3 L378.4,505.6 L384.2,509.8 L389.8,514.1 L395.2,519.1 L401.4,522.8 L408.1,525.2 L414.4,528.5 L420.2,533.2 L426.3,537.6 L432.4,541.5 L438.7,545.3 M361.1,483.8 L368.6,490.8 L375.4,496.1 L381.7,500.9 L387.9,505.0 L393.7,509.0 L399.3,513.2 L404.7,517.9 L410.8,521.4 L417.5,523.8 L423.8,526.9 L429.7,531.6 L435.7,535.9 L441.9,539.9 L448.2,543.7 M370.6,484.5 L378.0,490.9 L384.9,495.8 L391.1,500.3 L397.3,504.2 L403.1,508.2 L408.7,512.2 L414.1,516.7 L420.3,520.1 L427.0,522.3 L433.3,525.4 L439.1,530.0 L445.2,534.3 L451.3,538.3 L457.7,542.0 M380.0,484.7 L387.5,490.8 L394.3,495.4 L400.6,499.6 L406.8,503.3 L412.6,507.2 L418.2,511.1 L423.6,515.4 L429.7,518.6 L436.4,520.8 L442.7,523.8 L448.6,528.3 L454.6,532.6 L460.8,536.6 L467.1,540.4 M389.5,484.6 L397.0,490.3 L403.8,494.7 L410.0,498.7 L416.2,502.3 L422.0,506.1 L427.6,510.0 L433.0,514.1 L439.2,517.2 L445.9,519.3 L452.2,522.2 L458.0,526.7 L464.1,530.9 L470.2,535.0 L476.6,538.7 M398.9,484.1 L406.4,489.6 L413.2,493.7 L419.5,497.6 L425.7,501.1 L431.5,504.9 L437.1,508.7 L442.5,512.7 L448.6,515.7 L455.3,517.8 L461.6,520.6 L467.5,525.1 L473.5,529.3 L479.7,533.3 L486.0,537.1 M408.4,483.3 L415.9,488.6 L422.7,492.6 L429.0,496.3 L435.1,499.8 L440.9,503.5 L446.5,507.3 L451.9,511.2 L458.1,514.1 L464.8,516.2 L471.1,519.0 L476.9,523.4 L483.0,527.6 L489.1,531.7 L495.5,535.4 M417.8,482.2 L425.3,487.4 L432.1,491.3 L438.4,494.9 L444.6,498.3 L450.4,502.1 L456.0,505.9 L461.4,509.7 L467.6,512.6 L474.2,514.6 L480.6,517.4 L486.4,521.8 L492.4,526.0 L498.6,530.0 L504.9,533.8 M427.3,480.9 L434.8,485.9 L441.6,489.7 L447.9,493.4 L454.0,496.8 L459.8,500.6 L465.4,504.4 L470.8,508.2 L477.0,511.0 L483.7,513.0 L490.0,515.8 L495.9,520.1 L501.9,524.3 L508.1,528.4 L514.4,532.1 M436.7,479.2 L444.2,484.2 L451.1,488.1 L457.3,491.7 L463.5,495.1 L469.3,499.0 L474.9,502.9 L480.3,506.5 L486.5,509.3 L493.2,511.4 L499.5,514.2 L505.3,518.5 L511.4,522.6 L517.5,526.7 L523.8,530.4 M446.2,477.3 L453.7,482.3 L460.5,486.2 L466.8,489.8 L473.0,493.3 L478.7,497.3 L484.3,501.2 L489.7,504.9 L495.9,507.6 L502.6,509.8 L508.9,512.6 L514.8,516.8 L520.8,521.0 L527.0,525.0 L533.3,528.8 M455.6,475.1 L463.1,480.3 L470.0,484.2 L476.2,487.8 L482.4,491.5 L488.2,495.5 L493.8,499.5 L499.2,503.2 L505.4,505.9 L512.1,508.1 L518.4,511.0 L524.2,515.2 L530.3,519.3 L536.4,523.4 L542.7,527.1 M465.1,472.7 L472.6,478.0 L479.4,482.0 L485.7,485.8 L491.9,489.5 L497.6,493.7 L503.3,497.8 L508.6,501.4 L514.8,504.2 L521.5,506.5 L527.8,509.4 L533.7,513.5 L539.7,517.6 L545.9,521.7 L552.2,525.4 M474.5,470.1 L482.0,475.6 L488.9,479.7 L495.1,483.5 L501.3,487.4 L507.1,491.8 L512.7,496.0 L518.1,499.6 L524.3,502.4 L531.0,504.8 L537.3,507.7 L543.1,511.9 L549.2,515.9 L555.3,520.0 L561.6,523.7 M484.0,467.3 L491.5,473.0 L498.3,477.3 L504.6,481.2 L510.8,485.2 L516.5,489.8 L522.2,494.1 L527.5,497.8 L533.7,500.7 L540.4,503.1 L546.7,506.1 L552.6,510.2 L558.6,514.2 L564.8,518.4 L571.1,522.1 M493.5,464.4 L500.9,470.3 L507.8,474.7 L514.0,478.8 L520.2,483.0 L526.0,487.7 L531.6,492.2 L537.0,495.9 L543.2,498.8 L549.9,501.4 L556.2,504.5 L562.0,508.5 L568.1,512.5 L574.2,516.7 L580.5,520.4 M502.9,461.2 L510.4,467.4 L517.2,472.1 L523.5,476.3 L529.7,480.7 L535.5,485.6 L541.1,490.2 L546.5,494.0 L552.6,497.0 L559.3,499.7 L565.6,502.8 L571.5,506.9 L577.5,510.9 L583.7,515.0 L590.0,518.7 M512.4,457.9 L519.8,464.4 L526.7,469.3 L532.9,473.7 L539.1,478.3 L544.9,483.5 L550.5,488.2 L555.9,492.0 L562.1,495.1 L568.8,497.9 L575.1,501.2 L580.9,505.2 L587.0,509.2 L593.1,513.3 L599.5,517.0 M521.8,454.5 L529.3,461.3 L536.1,466.4 L542.4,471.0 L548.6,475.8 L554.4,481.2 L560.0,486.2 L565.4,490.1 L571.5,493.3 L578.2,496.2 L584.5,499.5 L590.4,503.5 L596.4,507.5 L602.6,511.6 L608.9,515.3 M531.3,450.9 L538.8,458.0 L545.6,463.4 L551.8,468.3 L558.0,473.3 L563.8,479.0 L569.4,484.1 L574.8,488.1 L581.0,491.4 L587.7,494.4 L594.0,497.9 L599.8,501.9 L605.9,505.8 L612.0,509.9 L618.4,513.6 M540.7,447.2 L548.2,454.7 L555.0,460.4 L561.3,465.4 L567.5,470.7 L573.3,476.7 L578.9,482.0 L584.3,486.0 L590.4,489.4 L597.1,492.6 L603.4,496.2 L609.3,500.2 L615.3,504.1 L621.5,508.2 L627.8,511.9 M550.2,443.4 L557.7,451.3 L564.5,457.2 L570.8,462.5 L576.9,468.1 L582.7,474.3 L588.3,479.8 L593.7,484.0 L599.9,487.5 L606.6,490.8 L612.9,494.6 L618.7,498.5 L624.8,502.4 L630.9,506.6 L637.3,510.2 M559.6,439.5 L567.1,447.8 L573.9,454.0 L580.2,459.5 L586.4,465.4 L592.2,471.9 L597.8,477.6 L603.2,481.9 L609.4,485.5 L616.0,489.1 L622.4,492.9 L628.2,496.8 L634.2,500.7 L640.4,504.9 L646.7,508.5 M268.6,441.9 L278.1,448.6 L287.5,454.5 L297.0,459.6 M268.6,441.9 L276.0,456.7 M278.1,448.6 L285.5,462.0 M287.5,454.5 L294.9,466.6 M297.0,459.6 L304.4,470.6 M353.7,477.5 L363.1,478.6 L372.6,479.1 L382.0,479.3 L391.5,479.0 L401.0,478.3 L410.4,477.2 M353.7,477.5 L361.1,483.8 M363.1,478.6 L370.6,484.5 M372.6,479.1 L380.0,484.7 M382.0,479.3 L389.5,484.6 M391.5,479.0 L398.9,484.1 M401.0,478.3 L408.4,483.3 M410.4,477.2 L417.8,482.2 M438.8,471.9 L448.2,469.5 L457.7,466.9 L467.1,463.9 L476.6,460.8 L486.0,457.4 L495.5,453.8 M438.8,471.9 L446.2,477.3 M448.2,469.5 L455.6,475.1 M457.7,466.9 L465.1,472.7 M467.1,463.9 L474.5,470.1 M476.6,460.8 L484.0,467.3 M486.0,457.4 L493.5,464.4 M495.5,453.8 L502.9,461.2" fill="none" stroke="#0072bd" stroke-width="0.6" stroke-opacity="0.75"/></g>
<g clip-path="url(#cN)"><polygon points="258.0,97.7 263.8,95.9 269.5,94.1 275.2,92.3 281.0,90.6 286.7,88.8 292.5,87.0 298.3,85.3 304.2,83.5 310.0,81.8 315.8,80.0 321.8,78.3 327.8,76.6 334.0,74.9 340.2,73.2 346.4,71.5 352.6,69.8 358.9,68.2 365.2,66.5 371.6,64.9 378.1,63.3 384.6,61.7 391.2,60.1 397.9,58.5 404.6,56.9 411.4,55.4 418.3,53.8 425.2,52.3 432.1,50.8 439.1,49.3 446.1,47.8 453.2,46.3 460.3,44.8 467.5,43.3 474.6,41.8 481.8,40.4 489.0,38.9 496.2,37.4 503.5,36.0 510.7,34.5 518.0,33.1 519.7,61.5 521.4,87.7 523.1,114.3 524.7,143.8 526.4,175.1 528.1,201.7 529.8,219.8 531.5,235.2 533.2,252.9 534.9,272.8 536.6,288.7 538.3,301.9 540.0,313.5 541.7,324.0 543.4,333.4 545.0,341.9 546.7,349.9 548.4,357.7 550.1,365.5 551.8,373.4 553.5,381.2 555.2,388.6 556.9,395.7 558.6,402.2 560.3,408.4 562.0,414.3 563.6,420.0 565.3,425.3 567.0,430.2 568.7,434.7 570.4,438.7 572.1,442.3 573.8,445.6 575.5,448.6 577.2,451.4 578.9,454.1 580.6,456.6 582.3,459.1 583.9,461.6 585.6,464.0 587.3,466.5 589.0,469.0 590.7,471.6 592.4,474.1 594.1,476.6 595.8,479.0 597.5,481.3 599.2,483.4 600.9,485.3 602.6,487.0 604.2,488.6 605.9,490.0 607.6,491.3 609.3,492.5 611.0,493.6 612.7,494.8 614.4,495.8 616.1,496.9 617.8,498.0 619.5,499.1 621.2,500.1 622.8,501.1 624.5,502.1 626.2,503.1 627.9,504.1 629.6,505.1 631.3,506.1 633.0,507.2 634.7,508.4 636.4,509.8 638.1,511.4 639.8,512.9 641.5,514.4 643.1,515.8 644.8,517.1 646.5,518.1 648.2,519.0 649.9,519.7 651.6,520.1 641.8,521.9 632.0,523.7 622.3,525.5 612.5,527.2 602.7,529.0 592.9,530.8 583.1,532.5 573.4,534.3 563.6,536.0 553.8,537.8 544.0,539.5 534.2,541.3 524.5,543.0 514.7,544.7 504.9,546.4 495.1,548.2 485.4,549.9 475.6,551.6 465.8,553.3 456.0,555.0 446.2,556.7 436.5,558.4 426.7,560.0 416.9,561.7 407.1,563.4 397.3,565.0 387.6,566.7 377.8,568.4 368.0,570.0 366.6,569.0 365.2,568.0 363.8,567.0 362.4,566.0 361.0,564.9 359.6,563.8 358.3,562.7 356.9,561.6 355.5,560.4 354.1,559.3 352.7,558.0 351.3,556.8 349.9,555.6 348.5,554.3 347.1,553.0 345.7,551.7 344.3,550.4 342.9,549.0 341.6,547.6 340.2,546.2 338.8,544.8 337.4,543.4 336.0,541.9 334.6,540.4 333.2,539.0 331.8,537.6 330.4,536.1 329.0,534.5 327.6,532.6 326.2,530.5 324.8,528.2 323.5,525.9 322.1,523.5 320.7,521.0 319.3,518.4 317.9,515.8 316.5,513.2 315.1,510.5 313.7,507.7 312.3,504.8 310.9,501.6 309.5,498.3 308.1,494.8 306.8,491.1 305.4,487.0 304.0,482.5 302.6,477.6 301.2,472.5 299.8,467.2 298.4,461.5 297.0,455.8 295.6,450.2 294.2,444.6 292.8,439.4 291.4,434.9 290.0,430.6 288.7,425.6 287.3,418.9 285.9,410.5 284.5,400.9 283.1,390.7 281.7,380.6 280.3,371.2 278.9,361.8 277.5,352.0 276.1,341.1 274.7,328.2 273.3,313.7 271.9,299.4 270.6,285.2 269.2,270.7 267.8,255.6 266.4,239.8 265.0,223.8 263.6,206.9 262.2,186.9 260.8,161.0 259.4,130.4" fill="#d95319" fill-opacity="0.5"/><g clip-path="url(#cO)"><path clip-path="url(#cM)" d="M291.6,435.4 L301.0,437.1 L310.5,438.8 L320.0,440.3 L329.4,441.7 L338.9,443.0 L348.3,444.1 L357.8,445.2 L367.2,446.1 L376.7,447.0 L386.1,447.8 L395.6,448.4 L405.0,449.0 L414.5,449.5 L423.9,449.9 L433.4,450.3 L442.8,450.5 L452.3,450.7 L461.8,450.9 L471.2,450.9 L480.7,450.9 L490.1,450.9 L499.6,450.8 L509.0,450.6 L518.5,450.4 L527.9,450.1 L537.4,449.8 L546.8,449.5 L556.3,449.0 L565.7,448.6 L575.2,448.1 M296.4,453.4 L305.9,454.2 L315.3,455.0 L324.8,455.6 L334.2,456.3 L343.7,456.8 L353.1,457.3 L362.6,457.8 L372.0,458.2 L381.5,458.5 L390.9,458.8 L400.4,459.1 L409.8,459.3 L419.3,459.4 L428.8,459.6 L438.2,459.6 L447.7,459.6 L457.1,459.6 L466.6,459.6 L476.0,459.4 L485.5,459.3 L494.9,459.1 L504.4,458.9 L513.8,458.6 L523.3,458.3 L532.7,458.0 L542.2,457.6 L551.6,457.2 L561.1,456.8 L570.6,456.3 L580.0,455.8 M300.0,468.1 L309.5,468.4 L318.9,468.7 L328.4,468.9 L337.8,469.1 L347.3,469.3 L356.7,469.4 L366.2,469.4 L375.6,469.5 L385.1,469.5 L394.6,469.4 L404.0,469.3 L413.5,469.2 L422.9,469.0 L432.4,468.8 L441.8,468.5 L451.3,468.3 L460.7,468.0 L470.2,467.6 L479.6,467.2 L489.1,466.8 L498.5,466.4 L508.0,465.9 L517.4,465.4 L526.9,464.9 L536.4,464.3 L545.8,463.7 L555.3,463.1 L564.7,462.5 L574.2,461.8 L583.6,461.1 M303.4,480.6 L312.9,480.6 L322.3,480.5 L331.8,480.4 L341.2,480.2 L350.7,480.1 L360.1,479.9 L369.6,479.6 L379.1,479.3 L388.5,479.0 L398.0,478.7 L407.4,478.3 L416.9,477.9 L426.3,477.5 L435.8,477.0 L445.2,476.5 L454.7,476.0 L464.1,475.4 L473.6,474.9 L483.0,474.3 L492.5,473.6 L501.9,473.0 L511.4,472.3 L520.9,471.6 L530.3,470.9 L539.8,470.1 L549.2,469.4 L558.7,468.6 L568.1,467.7 L577.6,466.9 L587.0,466.0 M306.9,491.4 L316.3,491.1 L325.8,490.7 L335.2,490.4 L344.7,490.0 L354.1,489.6 L363.6,489.1 L373.0,488.7 L382.5,488.2 L391.9,487.6 L401.4,487.1 L410.8,486.5 L420.3,485.9 L429.7,485.3 L439.2,484.6 L448.7,484.0 L458.1,483.3 L467.6,482.5 L477.0,481.8 L486.5,481.0 L495.9,480.2 L505.4,479.4 L514.8,478.6 L524.3,477.7 L533.7,476.9 L543.2,476.0 L552.6,475.0 L562.1,474.1 L571.5,473.2 L581.0,472.2 L590.5,471.2 M310.5,500.6 L320.0,500.2 L329.4,499.7 L338.9,499.2 L348.3,498.6 L357.8,498.0 L367.2,497.5 L376.7,496.8 L386.1,496.2 L395.6,495.5 L405.0,494.8 L414.5,494.1 L423.9,493.4 L433.4,492.6 L442.8,491.8 L452.3,491.0 L461.8,490.2 L471.2,489.4 L480.7,488.5 L490.1,487.6 L499.6,486.7 L509.0,485.8 L518.5,484.8 L527.9,483.9 L537.4,482.9 L546.8,481.9 L556.3,480.9 L565.7,479.8 L575.2,478.8 L584.6,477.7 L594.1,476.6 M314.4,509.1 L323.9,508.5 L333.3,507.9 L342.8,507.3 L352.2,506.6 L361.7,505.9 L371.1,505.2 L380.6,504.4 L390.0,503.7 L399.5,502.9 L408.9,502.1 L418.4,501.2 L427.8,500.4 L437.3,499.5 L446.7,498.6 L456.2,497.7 L465.7,496.8 L475.1,495.8 L484.6,494.9 L494.0,493.9 L503.5,492.9 L512.9,491.9 L522.4,490.8 L531.8,489.8 L541.3,488.7 L550.7,487.6 L560.2,486.5 L569.6,485.4 L579.1,484.2 L588.5,483.1 L598.0,481.9 M318.6,517.3 L328.1,516.5 L337.6,515.8 L347.0,515.0 L356.5,514.1 L365.9,513.3 L375.4,512.5 L384.8,511.6 L394.3,510.7 L403.7,509.8 L413.2,508.9 L422.6,507.9 L432.1,506.9 L441.5,506.0 L451.0,505.0 L460.4,503.9 L469.9,502.9 L479.4,501.8 L488.8,500.8 L498.3,499.7 L507.7,498.6 L517.2,497.5 L526.6,496.3 L536.1,495.2 L545.5,494.0 L555.0,492.8 L564.4,491.6 L573.9,490.4 L583.3,489.2 L592.8,488.0 L602.2,486.7 M323.2,525.5 L332.7,524.5 L342.1,523.6 L351.6,522.6 L361.0,521.6 L370.5,520.6 L380.0,519.6 L389.4,518.5 L398.9,517.5 L408.3,516.4 L417.8,515.3 L427.2,514.2 L436.7,513.1 L446.1,511.9 L455.6,510.8 L465.0,509.6 L474.5,508.5 L483.9,507.3 L493.4,506.1 L502.8,504.8 L512.3,503.6 L521.8,502.4 L531.2,501.1 L540.7,499.9 L550.1,498.6 L559.6,497.3 L569.0,496.0 L578.5,494.7 L587.9,493.4 L597.4,492.0 L606.8,490.7 M328.2,533.4 L337.6,532.2 L347.1,531.1 L356.5,529.9 L366.0,528.7 L375.4,527.5 L384.9,526.3 L394.3,525.1 L403.8,523.8 L413.2,522.6 L422.7,521.3 L432.1,520.1 L441.6,518.8 L451.0,517.5 L460.5,516.2 L470.0,514.9 L479.4,513.6 L488.9,512.2 L498.3,510.9 L507.8,509.6 L517.2,508.2 L526.7,506.8 L536.1,505.5 L545.6,504.1 L555.0,502.7 L564.5,501.3 L573.9,499.9 L583.4,498.4 L592.8,497.0 L602.3,495.6 L611.8,494.1 M333.8,539.6 L343.2,538.3 L352.7,537.0 L362.1,535.7 L371.6,534.4 L381.0,533.1 L390.5,531.8 L399.9,530.5 L409.4,529.2 L418.8,527.8 L428.3,526.5 L437.7,525.1 L447.2,523.7 L456.7,522.4 L466.1,521.0 L475.6,519.6 L485.0,518.2 L494.5,516.8 L503.9,515.4 L513.4,513.9 L522.8,512.5 L532.3,511.0 L541.7,509.6 L551.2,508.1 L560.6,506.7 L570.1,505.2 L579.5,503.7 L589.0,502.2 L598.5,500.7 L607.9,499.2 L617.4,497.7 M339.5,545.5 L348.9,544.1 L358.4,542.8 L367.8,541.4 L377.3,540.0 L386.7,538.6 L396.2,537.2 L405.6,535.7 L415.1,534.3 L424.5,532.9 L434.0,531.4 L443.4,530.0 L452.9,528.5 L462.3,527.1 L471.8,525.6 L481.3,524.1 L490.7,522.7 L500.2,521.2 L509.6,519.7 L519.1,518.2 L528.5,516.7 L538.0,515.1 L547.4,513.6 L556.9,512.1 L566.3,510.6 L575.8,509.0 L585.2,507.5 L594.7,505.9 L604.1,504.4 L613.6,502.8 L623.1,501.2 M345.2,551.2 L354.7,549.8 L364.2,548.3 L373.6,546.8 L383.1,545.3 L392.5,543.8 L402.0,542.3 L411.4,540.8 L420.9,539.3 L430.3,537.8 L439.8,536.2 L449.2,534.7 L458.7,533.2 L468.1,531.6 L477.6,530.1 L487.0,528.5 L496.5,527.0 L506.0,525.4 L515.4,523.8 L524.9,522.3 L534.3,520.7 L543.8,519.1 L553.2,517.5 L562.7,515.9 L572.1,514.3 L581.6,512.7 L591.0,511.1 L600.5,509.5 L609.9,507.9 L619.4,506.2 L628.8,504.6 M351.0,556.6 L360.5,555.0 L369.9,553.5 L379.4,551.9 L388.8,550.4 L398.3,548.8 L407.7,547.3 L417.2,545.7 L426.7,544.1 L436.1,542.6 L445.6,541.0 L455.0,539.4 L464.5,537.8 L473.9,536.2 L483.4,534.6 L492.8,533.0 L502.3,531.4 L511.7,529.8 L521.2,528.1 L530.6,526.5 L540.1,524.9 L549.5,523.3 L559.0,521.6 L568.5,520.0 L577.9,518.3 L587.4,516.7 L596.8,515.0 L606.3,513.4 L615.7,511.7 L625.2,510.0 L634.6,508.4 M356.5,561.3 L366.0,559.8 L375.5,558.3 L384.9,556.7 L394.4,555.2 L403.8,553.7 L413.3,552.1 L422.7,550.5 L432.2,549.0 L441.6,547.4 L451.1,545.8 L460.5,544.2 L470.0,542.7 L479.4,541.1 L488.9,539.5 L498.3,537.9 L507.8,536.3 L517.3,534.6 L526.7,533.0 L536.2,531.4 L545.6,529.8 L555.1,528.1 L564.5,526.5 L574.0,524.9 L583.4,523.2 L592.9,521.6 L602.3,519.9 L611.8,518.2 L621.2,516.6 L630.7,514.9 L640.1,513.2 M291.6,435.4 L296.4,453.4 L300.0,468.1 L303.4,480.6 L306.9,491.4 L310.5,500.6 L314.4,509.1 L318.6,517.3 L323.2,525.5 L328.2,533.4 L333.8,539.6 L339.5,545.5 L345.2,551.2 L351.0,556.6 L356.5,561.3 M301.0,437.1 L305.9,454.2 L309.5,468.4 L312.9,480.6 L316.3,491.1 L320.0,500.2 L323.9,508.5 L328.1,516.5 L332.7,524.5 L337.6,532.2 L343.2,538.3 L348.9,544.1 L354.7,549.8 L360.5,555.0 L366.0,559.8 M310.5,438.8 L315.3,455.0 L318.9,468.7 L322.3,480.5 L325.8,490.7 L329.4,499.7 L333.3,507.9 L337.6,515.8 L342.1,523.6 L347.1,531.1 L352.7,537.0 L358.4,542.8 L364.2,548.3 L369.9,553.5 L375.5,558.3 M320.0,440.3 L324.8,455.6 L328.4,468.9 L331.8,480.4 L335.2,490.4 L338.9,499.2 L342.8,507.3 L347.0,515.0 L351.6,522.6 L356.5,529.9 L362.1,535.7 L367.8,541.4 L373.6,546.8 L379.4,551.9 L384.9,556.7 M329.4,441.7 L334.2,456.3 L337.8,469.1 L341.2,480.2 L344.7,490.0 L348.3,498.6 L352.2,506.6 L356.5,514.1 L361.0,521.6 L366.0,528.7 L371.6,534.4 L377.3,540.0 L383.1,545.3 L388.8,550.4 L394.4,555.2 M338.9,443.0 L343.7,456.8 L347.3,469.3 L350.7,480.1 L354.1,489.6 L357.8,498.0 L361.7,505.9 L365.9,513.3 L370.5,520.6 L375.4,527.5 L381.0,533.1 L386.7,538.6 L392.5,543.8 L398.3,548.8 L403.8,553.7 M348.3,444.1 L353.1,457.3 L356.7,469.4 L360.1,479.9 L363.6,489.1 L367.2,497.5 L371.1,505.2 L375.4,512.5 L380.0,519.6 L384.9,526.3 L390.5,531.8 L396.2,537.2 L402.0,542.3 L407.7,547.3 L413.3,552.1 M357.8,445.2 L362.6,457.8 L366.2,469.4 L369.6,479.6 L373.0,488.7 L376.7,496.8 L380.6,504.4 L384.8,511.6 L389.4,518.5 L394.3,525.1 L399.9,530.5 L405.6,535.7 L411.4,540.8 L417.2,545.7 L422.7,550.5 M367.2,446.1 L372.0,458.2 L375.6,469.5 L379.1,479.3 L382.5,488.2 L386.1,496.2 L390.0,503.7 L394.3,510.7 L398.9,517.5 L403.8,523.8 L409.4,529.2 L415.1,534.3 L420.9,539.3 L426.7,544.1 L432.2,549.0 M376.7,447.0 L381.5,458.5 L385.1,469.5 L388.5,479.0 L391.9,487.6 L395.6,495.5 L399.5,502.9 L403.7,509.8 L408.3,516.4 L413.2,522.6 L418.8,527.8 L424.5,532.9 L430.3,537.8 L436.1,542.6 L441.6,547.4 M386.1,447.8 L390.9,458.8 L394.6,469.4 L398.0,478.7 L401.4,487.1 L405.0,494.8 L408.9,502.1 L413.2,508.9 L417.8,515.3 L422.7,521.3 L428.3,526.5 L434.0,531.4 L439.8,536.2 L445.6,541.0 L451.1,545.8 M395.6,448.4 L400.4,459.1 L404.0,469.3 L407.4,478.3 L410.8,486.5 L414.5,494.1 L418.4,501.2 L422.6,507.9 L427.2,514.2 L432.1,520.1 L437.7,525.1 L443.4,530.0 L449.2,534.7 L455.0,539.4 L460.5,544.2 M405.0,449.0 L409.8,459.3 L413.5,469.2 L416.9,477.9 L420.3,485.9 L423.9,493.4 L427.8,500.4 L432.1,506.9 L436.7,513.1 L441.6,518.8 L447.2,523.7 L452.9,528.5 L458.7,533.2 L464.5,537.8 L470.0,542.7 M414.5,449.5 L419.3,459.4 L422.9,469.0 L426.3,477.5 L429.7,485.3 L433.4,492.6 L437.3,499.5 L441.5,506.0 L446.1,511.9 L451.0,517.5 L456.7,522.4 L462.3,527.1 L468.1,531.6 L473.9,536.2 L479.4,541.1 M423.9,449.9 L428.8,459.6 L432.4,468.8 L435.8,477.0 L439.2,484.6 L442.8,491.8 L446.7,498.6 L451.0,505.0 L455.6,510.8 L460.5,516.2 L466.1,521.0 L471.8,525.6 L477.6,530.1 L483.4,534.6 L488.9,539.5 M433.4,450.3 L438.2,459.6 L441.8,468.5 L445.2,476.5 L448.7,484.0 L452.3,491.0 L456.2,497.7 L460.4,503.9 L465.0,509.6 L470.0,514.9 L475.6,519.6 L481.3,524.1 L487.0,528.5 L492.8,533.0 L498.3,537.9 M442.8,450.5 L447.7,459.6 L451.3,468.3 L454.7,476.0 L458.1,483.3 L461.8,490.2 L465.7,496.8 L469.9,502.9 L474.5,508.5 L479.4,513.6 L485.0,518.2 L490.7,522.7 L496.5,527.0 L502.3,531.4 L507.8,536.3 M452.3,450.7 L457.1,459.6 L460.7,468.0 L464.1,475.4 L467.6,482.5 L471.2,489.4 L475.1,495.8 L479.4,501.8 L483.9,507.3 L488.9,512.2 L494.5,516.8 L500.2,521.2 L506.0,525.4 L511.7,529.8 L517.3,534.6 M461.8,450.9 L466.6,459.6 L470.2,467.6 L473.6,474.9 L477.0,481.8 L480.7,488.5 L484.6,494.9 L488.8,500.8 L493.4,506.1 L498.3,510.9 L503.9,515.4 L509.6,519.7 L515.4,523.8 L521.2,528.1 L526.7,533.0 M471.2,450.9 L476.0,459.4 L479.6,467.2 L483.0,474.3 L486.5,481.0 L490.1,487.6 L494.0,493.9 L498.3,499.7 L502.8,504.8 L507.8,509.6 L513.4,513.9 L519.1,518.2 L524.9,522.3 L530.6,526.5 L536.2,531.4 M480.7,450.9 L485.5,459.3 L489.1,466.8 L492.5,473.6 L495.9,480.2 L499.6,486.7 L503.5,492.9 L507.7,498.6 L512.3,503.6 L517.2,508.2 L522.8,512.5 L528.5,516.7 L534.3,520.7 L540.1,524.9 L545.6,529.8 M490.1,450.9 L494.9,459.1 L498.5,466.4 L501.9,473.0 L505.4,479.4 L509.0,485.8 L512.9,491.9 L517.2,497.5 L521.8,502.4 L526.7,506.8 L532.3,511.0 L538.0,515.1 L543.8,519.1 L549.5,523.3 L555.1,528.1 M499.6,450.8 L504.4,458.9 L508.0,465.9 L511.4,472.3 L514.8,478.6 L518.5,484.8 L522.4,490.8 L526.6,496.3 L531.2,501.1 L536.1,505.5 L541.7,509.6 L547.4,513.6 L553.2,517.5 L559.0,521.6 L564.5,526.5 M509.0,450.6 L513.8,458.6 L517.4,465.4 L520.9,471.6 L524.3,477.7 L527.9,483.9 L531.8,489.8 L536.1,495.2 L540.7,499.9 L545.6,504.1 L551.2,508.1 L556.9,512.1 L562.7,515.9 L568.5,520.0 L574.0,524.9 M518.5,450.4 L523.3,458.3 L526.9,464.9 L530.3,470.9 L533.7,476.9 L537.4,482.9 L541.3,488.7 L545.5,494.0 L550.1,498.6 L555.0,502.7 L560.6,506.7 L566.3,510.6 L572.1,514.3 L577.9,518.3 L583.4,523.2 M527.9,450.1 L532.7,458.0 L536.4,464.3 L539.8,470.1 L543.2,476.0 L546.8,481.9 L550.7,487.6 L555.0,492.8 L559.6,497.3 L564.5,501.3 L570.1,505.2 L575.8,509.0 L581.6,512.7 L587.4,516.7 L592.9,521.6 M537.4,449.8 L542.2,457.6 L545.8,463.7 L549.2,469.4 L552.6,475.0 L556.3,480.9 L560.2,486.5 L564.4,491.6 L569.0,496.0 L573.9,499.9 L579.5,503.7 L585.2,507.5 L591.0,511.1 L596.8,515.0 L602.3,519.9 M546.8,449.5 L551.6,457.2 L555.3,463.1 L558.7,468.6 L562.1,474.1 L565.7,479.8 L569.6,485.4 L573.9,490.4 L578.5,494.7 L583.4,498.4 L589.0,502.2 L594.7,505.9 L600.5,509.5 L606.3,513.4 L611.8,518.2 M556.3,449.0 L561.1,456.8 L564.7,462.5 L568.1,467.7 L571.5,473.2 L575.2,478.8 L579.1,484.2 L583.3,489.2 L587.9,493.4 L592.8,497.0 L598.5,500.7 L604.1,504.4 L609.9,507.9 L615.7,511.7 L621.2,516.6 M565.7,448.6 L570.6,456.3 L574.2,461.8 L577.6,466.9 L581.0,472.2 L584.6,477.7 L588.5,483.1 L592.8,488.0 L597.4,492.0 L602.3,495.6 L607.9,499.2 L613.6,502.8 L619.4,506.2 L625.2,510.0 L630.7,514.9 M575.2,448.1 L580.0,455.8 L583.6,461.1 L587.0,466.0 L590.5,471.2 L594.1,476.6 L598.0,481.9 L602.2,486.7 L606.8,490.7 L611.8,494.1 L617.4,497.7 L623.1,501.2 L628.8,504.6 L634.6,508.4 L640.1,513.2 M324.4,427.5 L333.8,430.0 L343.3,432.2 L352.7,434.1 M324.4,427.5 L329.4,441.7 M333.8,430.0 L338.9,443.0 M343.3,432.2 L348.3,444.1 M352.7,434.1 L357.8,445.2 M400.0,440.9 L409.5,441.7 L418.9,442.4 L428.4,442.9 L437.8,443.2 L447.3,443.5 L456.7,443.6 L466.2,443.6 L475.6,443.5 L485.1,443.4 L494.5,443.1 M400.0,440.9 L405.0,449.0 M409.5,441.7 L414.5,449.5 M418.9,442.4 L423.9,449.9 M428.4,442.9 L433.4,450.3 M437.8,443.2 L442.8,450.5 M447.3,443.5 L452.3,450.7 M456.7,443.6 L461.8,450.9 M466.2,443.6 L471.2,450.9 M475.6,443.5 L480.7,450.9 M485.1,443.4 L490.1,450.9 M494.5,443.1 L499.6,450.8 M504.0,442.7 L513.4,442.3 L522.9,441.7 L532.4,441.1 L541.8,440.5 M504.0,442.7 L509.0,450.6 M513.4,442.3 L518.5,450.4 M522.9,441.7 L527.9,450.1 M532.4,441.1 L537.4,449.8 M541.8,440.5 L546.8,449.5" fill="none" stroke="#d95319" stroke-width="0.6" stroke-opacity="0.75"/></g></g>
<g stroke="#262626" stroke-width="2.2" fill="none" stroke-linecap="round">
<polyline points="85.0,538.0 85.0,61.0 368.6,1.4 651.6,61.4 651.6,538.4 368.0,598.0 85.0,538.0"/>
<line x1="85.0" y1="538.0" x2="72.4" y2="535.4"/>
<line x1="85.0" y1="379.0" x2="72.4" y2="376.4"/>
<line x1="85.0" y1="220.0" x2="72.4" y2="217.4"/>
<line x1="85.0" y1="61.0" x2="72.4" y2="58.4"/>
<line x1="85.0" y1="538.0" x2="72.6" y2="540.8"/>
<line x1="368.0" y1="598.0" x2="380.0" y2="600.6"/>
<line x1="155.8" y1="553.0" x2="143.3" y2="555.8"/>
<line x1="438.9" y1="583.1" x2="450.9" y2="585.7"/>
<line x1="226.5" y1="568.0" x2="214.1" y2="570.8"/>
<line x1="509.8" y1="568.2" x2="521.8" y2="570.8"/>
<line x1="297.2" y1="583.0" x2="284.9" y2="585.8"/>
<line x1="580.7" y1="553.3" x2="592.7" y2="555.9"/>
<line x1="368.0" y1="598.0" x2="355.6" y2="600.8"/>
<line x1="651.6" y1="538.4" x2="663.6" y2="541.0"/>
</g>
<g font-family="'Liberation Serif', serif" font-size="29.2" fill="#262626" stroke="#262626" stroke-width="0.35">
<text x="60.8" y="544.4" text-anchor="end">0</text>
<text x="60.8" y="385.4" text-anchor="end">0.5</text>
<text x="60.8" y="226.4" text-anchor="end">1</text>
<text x="60.8" y="67.4" text-anchor="end">1.5</text>
<text x="61.7" y="572.0" text-anchor="end">-2.5</text>
<text x="132.4" y="587.0" text-anchor="end">-1.5</text>
<text x="203.2" y="602.0" text-anchor="end">-0.5</text>
<text x="274.0" y="617.0" text-anchor="end">0.5</text>
<text x="344.7" y="632.0" text-anchor="end">1.5</text>
<text x="390.6" y="631.6">-1</text>
<text x="461.5" y="616.7">-0.5</text>
<text x="532.4" y="601.8">0</text>
<text x="603.3" y="586.9">0.5</text>
<text x="674.2" y="572.0">1</text>
</g>
<g font-family="'Liberation Serif', serif" font-style="italic" fill="#262626" stroke="#262626" stroke-width="0.25">
<text x="183.3" y="645.5" font-size="30.5" transform="rotate(12 190 640)">η</text>
<g transform="rotate(-12 545 633)"><text transform="translate(538.0,643.3) scale(0.86,1)" font-size="29.5">θ</text><line x1="539.5" y1="617.5" x2="550.5" y2="617.5" stroke="#262626" stroke-width="1.3"/></g>
<g transform="translate(18.2,305.6) rotate(-90) scale(0.83,1)"><text x="0" y="0" font-size="30">ϵ</text></g><line x1="0.5" y1="293.2" x2="0.5" y2="303.6" stroke="#262626" stroke-width="1.2"/>
</g>
<rect x="524.9" y="11.8" width="132.4" height="147" fill="#fff" stroke="#262626" stroke-width="1.6"/>
<rect x="535.1" y="28.2" width="50.9" height="11" fill="#80b9de"/>
<rect x="535.1" y="63.2" width="50.9" height="10.7" fill="#eca98c"/>
<line x1="535.1" y1="102.6" x2="586" y2="102.6" stroke="#ed3237" stroke-width="2"/>
<line x1="535.1" y1="137.1" x2="586" y2="137.1" stroke="#505050" stroke-width="2"/>
<g font-family="'Liberation Serif', serif" font-size="27.6" fill="#111" stroke="#111" stroke-width="0.3">
<text x="594" y="109.8" letter-spacing="0.35">Ele1</text><text x="594" y="144.1" letter-spacing="0.35">Ele2</text>
<text x="594" y="40.5" font-style="italic" font-size="30">ϵ<tspan font-size="20" dy="4.5" dx="0.5">c</tspan></text>
<text x="594" y="75.5" font-style="italic" font-size="30">ϵ<tspan font-size="20" dy="4.5" dx="1.5">f</tspan></text>
<line x1="596" y1="24.8" x2="605.5" y2="24.8" stroke="#111" stroke-width="1.4"/><line x1="596" y1="59.8" x2="605.5" y2="59.8" stroke="#111" stroke-width="1.4"/>
</g>
</svg>
</body></html>
